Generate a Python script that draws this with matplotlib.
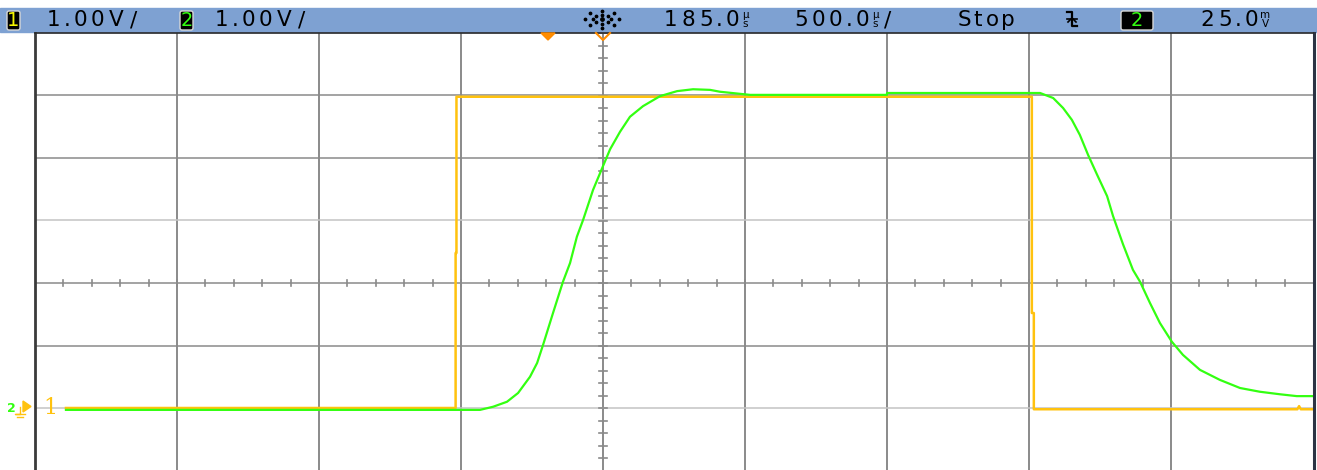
#!/usr/bin/env python3
import numpy as np
import matplotlib as mpl
mpl.use("Agg")
import matplotlib.pyplot as plt
from matplotlib.patches import Rectangle, FancyBboxPatch, Polygon

# Scope settings
T_DIV = 500.0      # us / div
T_DELAY = 185.0    # us at screen centre
V_DIV = 1.0        # V / div

# Channel 1 (yellow) - time [us], volts
ch1_t = [-1706, -334, -334, -331, -331, 1695, 1695, 1702, 1702, 2630, 2636, 2642, 2685]
ch1_v = [0.0, 0.0, 2.48, 2.48, 4.98, 4.98, 1.52, 1.52, -0.02, -0.02, 0.03, -0.02, -0.02]

# Channel 2 (green) - time [us], volts
ch2_t = [-1706, -389, -248, -202, -153, -114, -72, -47, -26, 9, 44, 69, 93, 115, 150,
         185, 210, 245, 280, 326, 386, 446, 502, 562, 597, 703, 879, 1185, 1185, 1724,
         1770, 1805, 1836, 1864, 1893, 1924, 1960, 1981, 2016, 2051, 2076, 2111, 2146,
         2188, 2227, 2287, 2357, 2428, 2498, 2568, 2628, 2685]
ch2_v = [-0.03, -0.03, -0.03, 0.02, 0.10, 0.24, 0.50, 0.72, 1.01, 1.52, 2.02, 2.32, 2.74,
         3.01, 3.49, 3.87, 4.14, 4.42, 4.66, 4.83, 4.99, 5.07, 5.10, 5.09, 5.06, 5.01,
         5.01, 5.01, 5.04, 5.04, 4.96, 4.80, 4.61, 4.37, 4.05, 3.74, 3.39, 3.07, 2.62,
         2.21, 2.02, 1.68, 1.36, 1.06, 0.85, 0.61, 0.45, 0.32, 0.26, 0.22, 0.19, 0.19]

# Header strings
ch1_scale = "1.00V/"
ch2_scale = "1.00V/"
delay_txt = "185.0"
tdiv_txt = "500.0"
run_txt = "Stop"
trig_src = "2"
trig_lvl = "25.0"

YELLOW = "#ffc20e"
GREEN = "#33ff11"
ORANGE = "#ff8c00"
HEADER = "#7ea1d2"
GRID = "#8a8a8a"
GRID_LT = "#c4c4c4"

W, H = 1317, 470
fig = plt.figure(figsize=(W / 100, H / 100), dpi=100)

# pixel-space overlay for header and markers
ov = fig.add_axes([0, 0, 1, 1], zorder=5)
ov.set_xlim(0, W)
ov.set_ylim(H, 0)
ov.axis("off")

# main graticule
X0, X1, YT = 35, 1313, 33
ax = fig.add_axes([X0 / W, 0, (X1 - X0) / W, (H - YT) / H], zorder=1)
t_left = T_DELAY - 4 * T_DIV
t_right = T_DELAY + 5 * T_DIV
ax.set_xlim(t_left, t_right)
ax.set_ylim(-0.992 * V_DIV, 6.0 * V_DIV)
for s in ax.spines.values():
    s.set_visible(False)
ax.set_xticks([])
ax.set_yticks([])

for k in range(-3, 5):
    ax.axvline(T_DELAY + k * T_DIV, color=GRID, lw=1.4, zorder=1)
for v in range(0, 6):
    ax.axhline(v * V_DIV, color=GRID_LT if v in (0, 3) else GRID, lw=1.1, zorder=1)

# minor ticks on the centre axes
for tt in np.arange(t_left, t_right, T_DIV / 5):
    ax.plot([tt, tt], [2 - 0.05, 2 + 0.05], color=GRID, lw=1.2, zorder=1)
for vv in np.arange(-1, 6.01, 0.2):
    ax.plot([T_DELAY - 15, T_DELAY + 15], [vv, vv], color=GRID, lw=1.2, zorder=1)

ax.plot(ch2_t, ch2_v, color=GREEN, lw=1.6, zorder=3)
ax.plot(ch1_t, ch1_v, color=YELLOW, lw=1.8, zorder=2)

# frame
ov.plot([X0, X0], [YT, H], color="#3a3a3a", lw=2)
ov.plot([X1 + 1, X1 + 1], [YT, H], color="#2c3444", lw=2.2)
ov.plot([X0, X1], [YT, YT], color="#2a2a2a", lw=1.2)

# header bar
ov.add_patch(Rectangle((0, 8), W, 24, color=HEADER, zorder=0))

ADV = {".": 9.0, "V": 19.0, "/": 16.0, "S": 16.0, "t": 12.0, "o": 16.0, "p": 16.0}


def spaced(x, s, fs=15.5, col="black"):
    # scope font is wide: place each glyph in its own cell
    for ch in s:
        a = ADV.get(ch, 17.5)
        ov.text(x + a / 2, 20, ch, fontsize=fs, color=col, ha="center", va="center")
        x += a
    return x


def chbox(x, label, col, w=13):
    ov.add_patch(FancyBboxPatch((x, 11), w, 19, boxstyle="round,pad=0,rounding_size=2",
                                fc="black", ec="#d8d8d8", lw=1.0))
    ov.text(x + w / 2, 20.5, label, color=col, fontsize=14, ha="center", va="center")


def unit(x, top, bot):
    ov.text(x, 15, top, fontsize=7.5, va="center", ha="center")
    ov.text(x, 24, bot, fontsize=7.5, va="center", ha="center")


chbox(7, "1", "#f5f500")
spaced(45, ch1_scale)
chbox(180, "2", GREEN)
spaced(213, ch2_scale)

# Agilent logo dots
cx, cy = 602, 19
ov.scatter([cx], [cy], s=6, color="black")
for ang in np.linspace(0, 2 * np.pi, 8, endpoint=False):
    for r in (4.5, 8.5):
        ov.scatter([cx + r * 2.0 * np.cos(ang)], [cy + r * np.sin(ang)], s=3, color="black")

xe = spaced(662, delay_txt)
unit(xe + 4, "\u00b5", "s")
xe = spaced(792, tdiv_txt)
unit(xe + 4, "\u00b5", "s")
spaced(xe + 9, "/")
spaced(956, run_txt)

# trigger edge symbol
ov.plot([1067, 1072, 1072, 1077], [12, 12, 26, 26], color="black", lw=1.6)
ov.plot([1067, 1077], [19, 19], color="black", lw=1.2)
ov.plot([1068, 1072, 1076], [22, 18, 22], color="black", lw=1.2)

chbox(1121, trig_src, GREEN, w=32)
xe = spaced(1199, trig_lvl)
unit(xe + 5, "m", "V")

# time reference markers
ov.add_patch(Polygon([[541, 33], [555, 33], [548, 40]], color=ORANGE, zorder=6))
ov.plot([596, 603, 610], [33, 40, 33], color=ORANGE, lw=1.5)

# ground markers on the left
ov.text(11, 408, "2", color=GREEN, fontsize=9, ha="center", va="center", weight="bold")
ov.add_patch(Polygon([[23, 401], [23, 412], [31, 406.5]], color=YELLOW))
ov.plot([20, 20, 15, 25], [407, 414, 414, 414], color=YELLOW, lw=1)
ov.plot([17, 23], [417, 417], color=YELLOW, lw=1)
ov.text(50, 408, "1", color=YELLOW, fontsize=16, ha="center", va="center",
        family="DejaVu Serif")

fig.savefig("out.png", dpi=100, facecolor="white")
